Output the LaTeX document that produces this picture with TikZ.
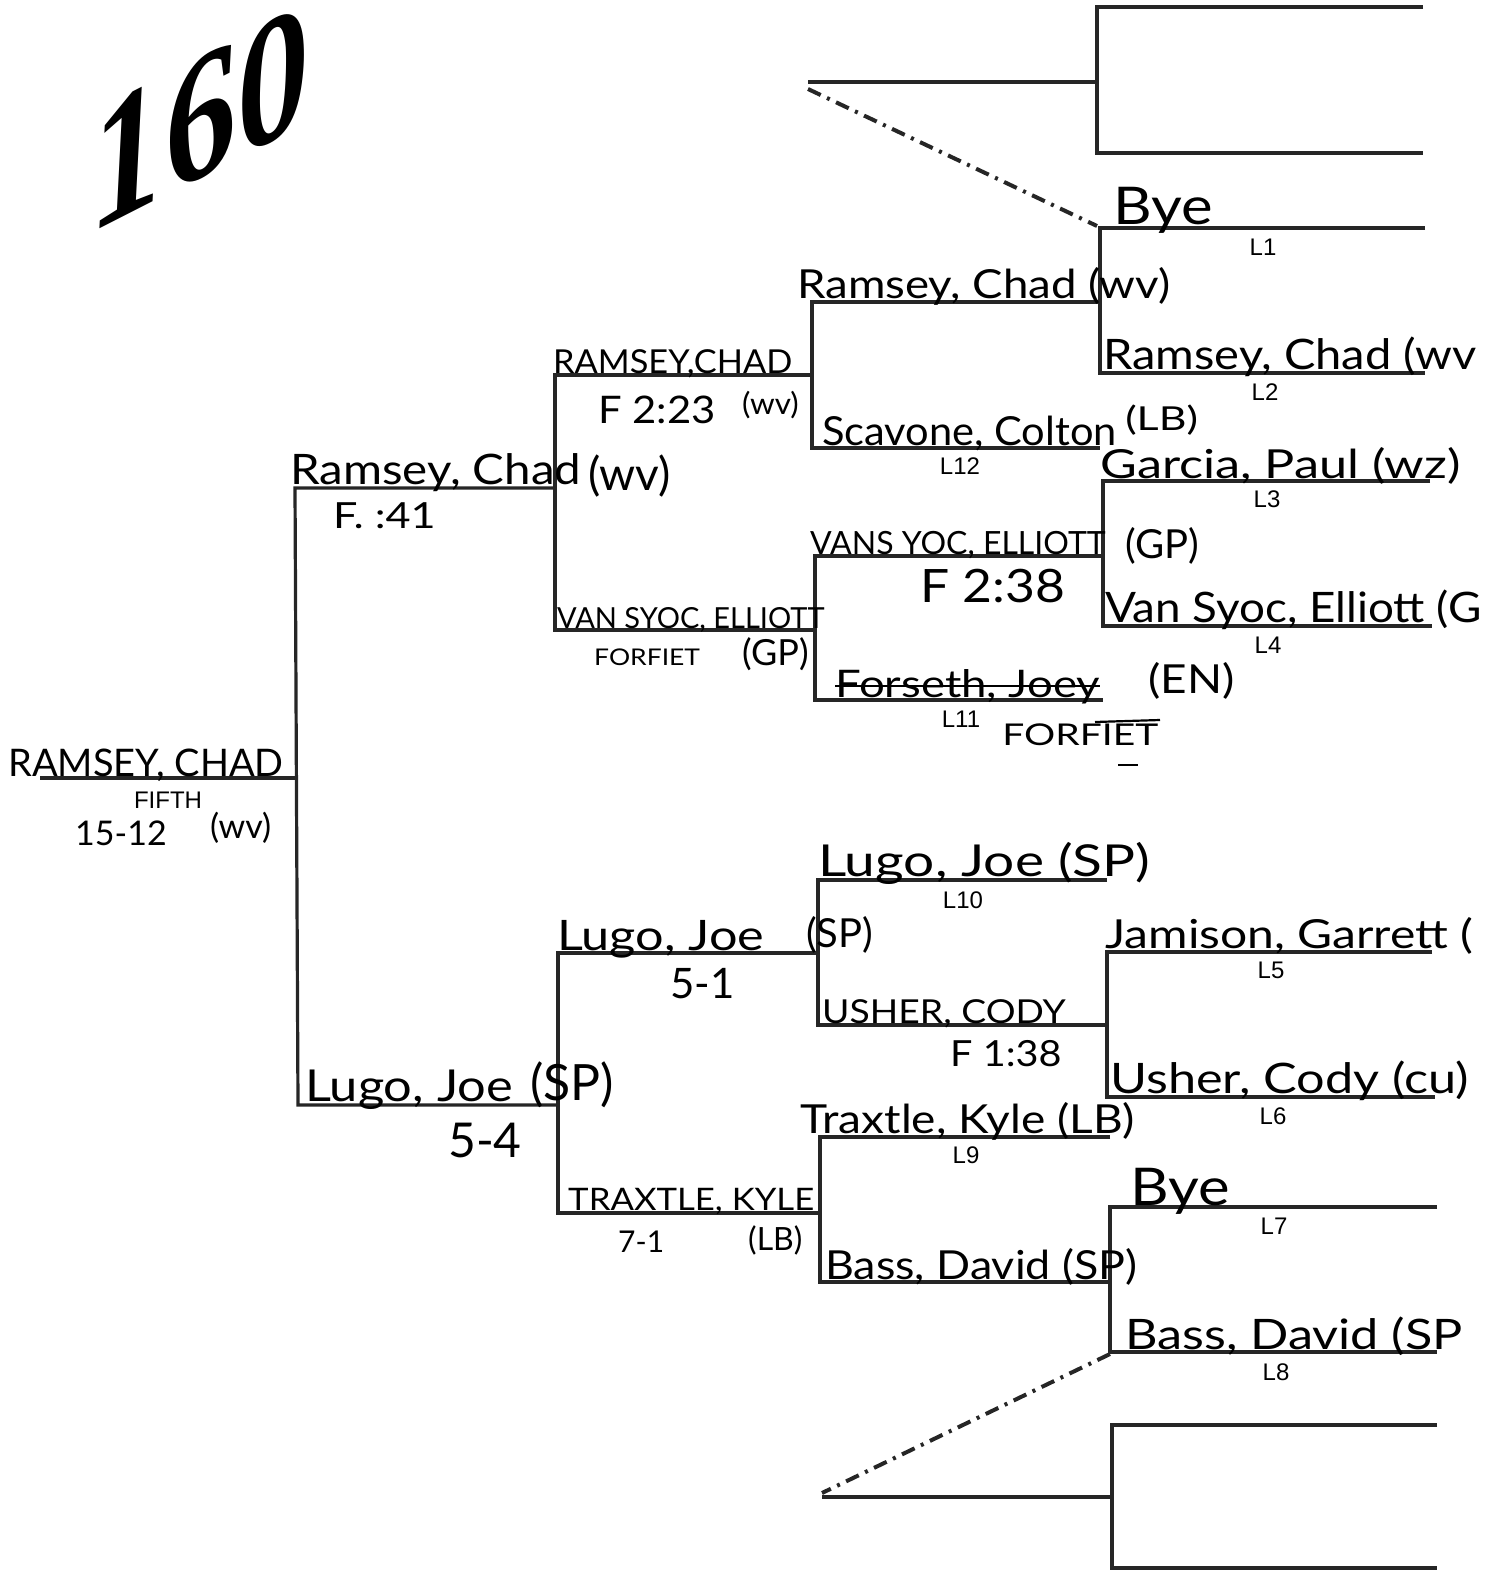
\documentclass[tikz,border=0pt]{standalone}
\usepackage{fontspec}
\newfontfamily\hand{Lato}
\newfontfamily\prnt{Liberation Sans}
\newfontfamily\logofont{Liberation Serif}
\begin{document}
\begin{tikzpicture}[x=1pt,y=-1pt,
  bline/.style={line width=3.2pt,line join=miter,draw=black!85},
  dd/.style={line width=4pt,dash pattern=on 14pt off 7pt on 3pt off 7pt,draw=black!85},
  hw/.style={font=\hand\fontsize{#1}{#1}\selectfont,anchor=base west,inner sep=0pt},
  lbl/.style={font=\prnt\fontsize{24}{24}\selectfont,inner sep=0pt},
  penstroke/.style={line width=2.2pt}]
\useasboundingbox (0,0) rectangle (1484,1571);
\fill[white] (0,0) rectangle (1484,1571);
\clip (0,0) rectangle (1484,1571);

% logo
\node[font=\logofont\bfseries\itshape\fontsize{162}{162}\selectfont,inner sep=0pt,rotate=27,xslant=0.4] (logo) at (200,118) {160};

% ---- level 1 brackets
\coordinate (r0t) at (1097,7);    \coordinate (r0te) at (1423,7);
\coordinate (r0b) at (1097,153);  \coordinate (r0be) at (1423,153);
\coordinate (r0m) at (1097,82);   \coordinate (r0in) at (808,82);
\coordinate (r1t) at (1100,228);  \coordinate (r1te) at (1425,228);
\coordinate (r1b) at (1100,373);  \coordinate (r1be) at (1425,373);
\coordinate (r1m) at (1100,302);
\coordinate (r2t) at (1103,481);  \coordinate (r2te) at (1430,481);
\coordinate (r2b) at (1103,626);  \coordinate (r2be) at (1432,626);
\coordinate (r2m) at (1103,556);
\coordinate (r3t) at (1107,952);  \coordinate (r3te) at (1432,952);
\coordinate (r3b) at (1107,1097); \coordinate (r3be) at (1435,1097);
\coordinate (r3m) at (1107,1025);
\coordinate (r4t) at (1110,1207); \coordinate (r4te) at (1437,1207);
\coordinate (r4b) at (1110,1352); \coordinate (r4be) at (1437,1352);
\coordinate (r4m) at (1110,1282);
\coordinate (r5t) at (1112,1425); \coordinate (r5te) at (1437,1425);
\coordinate (r5b) at (1112,1568); \coordinate (r5be) at (1437,1568);
\coordinate (r5m) at (1112,1497); \coordinate (r5in) at (822,1497);
% ---- level 2
\coordinate (m1t) at (812,302);  \coordinate (m1b) at (812,448);  \coordinate (m1be) at (1100,448); \coordinate (m1m) at (812,375);
\coordinate (m2t) at (815,556);  \coordinate (m2b) at (815,700);  \coordinate (m2be) at (1103,700); \coordinate (m2m) at (815,630);
\coordinate (m3t) at (818,880);  \coordinate (m3te) at (1107,880); \coordinate (m3b) at (818,1025); \coordinate (m3m) at (818,953);
\coordinate (m4t) at (820,1137); \coordinate (m4te) at (1110,1137); \coordinate (m4b) at (820,1282); \coordinate (m4m) at (820,1213);
% ---- level 3
\coordinate (s1t) at (555,375); \coordinate (s1b) at (555,630); \coordinate (s1m) at (555,488);
\coordinate (s2t) at (558,953); \coordinate (s2b) at (558,1213); \coordinate (s2m) at (558,1105);
% ---- final
\coordinate (ft) at (295,488); \coordinate (fb) at (298,1105); \coordinate (fm) at (295,778); \coordinate (fo) at (40,778);
% dash-dot ends
\coordinate (d1a) at (808,89);  \coordinate (d1b) at (1097,226);
\coordinate (d2a) at (822,1493); \coordinate (d2b) at (1110,1354);

\draw[bline] (r0te) -- (r0t) -- (r0b) -- (r0be);
\draw[bline] (r0in) -- (r0m);
\draw[bline] (r1te) -- (r1t) -- (r1b) -- (r1be);
\draw[bline] (r2te) -- (r2t) -- (r2b) -- (r2be);
\draw[bline] (r3te) -- (r3t) -- (r3b) -- (r3be);
\draw[bline] (r4te) -- (r4t) -- (r4b) -- (r4be);
\draw[bline] (r5te) -- (r5t) -- (r5b) -- (r5be);
\draw[bline] (r5in) -- (r5m);
\draw[bline] (r1m) -- (m1t) -- (m1b) -- (m1be);
\draw[bline] (r2m) -- (m2t) -- (m2b) -- (m2be);
\draw[bline] (m3te) -- (m3t) -- (m3b) -- (r3m);
\draw[bline] (m4te) -- (m4t) -- (m4b) -- (r4m);
\draw[bline] (m1m) -- (s1t) -- (s1b) -- (m2m);
\draw[bline] (m3m) -- (s2t) -- (s2b) -- (m4m);
\draw[bline] (s1m) -- (ft) -- (fb) -- (s2m);
\draw[bline] (fm) -- (fo);
\draw[dd] (d1a) -- (d1b);
\draw[dd] (d2b) -- (d2a);

% ---- printed labels
\node[lbl] (L1) at (1263,247) {L1};
\node[lbl] (L2) at (1265,392) {L2};
\node[lbl] (L3) at (1267,499) {L3};
\node[lbl] (L4) at (1268,645) {L4};
\node[lbl] (L5) at (1271,970) {L5};
\node[lbl] (L6) at (1273,1116) {L6};
\node[lbl] (L7) at (1274,1226) {L7};
\node[lbl] (L8) at (1276,1372) {L8};
\node[lbl] (L9) at (966,1155) {L9};
\node[lbl] (L10) at (963,900) {L10};
\node[lbl] (L11) at (961,719) {L11};
\node[lbl] (L12) at (960,466) {L12};
\node[lbl] (fifth) at (168,800) {FIFTH};

% ---- handwriting
\node[hw=52,xscale=1.15] (bye1) at (1113,224) {Bye};
\node[hw=40,xscale=1.14] (ram1) at (797,298) {Ramsey, Chad (wv)};
\node[hw=42,xscale=1.12] (ram2) at (1103,369) {Ramsey, Chad (wv};
\node[hw=33,xscale=1.04] (ram3) at (553,373) {RAMSEY,CHAD};
\node[hw=38,xscale=1.1] (f223) at (598,423) {F 2:23};
\node[hw=30,xscale=1.05] (wv3) at (742,414) {(wv)};
\node[hw=40,xscale=1.04] (sca) at (822,445) {Scavone, Colton};
\node[hw=33,xscale=1.3] (lb1) at (1125,430) {(LB)};
\node[hw=40,xscale=1.26] (gar) at (1100,478) {Garcia, Paul (wz)};
\node[hw=32] (vsy1) at (810,554) {VANS YOC, ELLIOTT};
\node[hw=40] (gp1) at (1125,558) {(GP)};
\node[hw=46,xscale=1.12] (f238) at (920,602) {F 2:38};
\node[hw=42,xscale=1.09] (vsy2) at (1105,622) {Van Syoc, Elliott (G};
\node[hw=38,xscale=1.2] (for) at (835,697) {Forseth, Joey};
\draw[penstroke] ([yshift=11pt]for.base west) -- ([yshift=11pt]for.base east);
\node[hw=40,xscale=1.15] (en) at (1148,693) {(EN)};
\node[hw=30,xscale=1.3] (ff1) at (1002,745) {FORFIET};
\draw[penstroke] (1095,722) -- (1160,720);
\draw[penstroke] (1118,765) -- (1138,765);
\node[hw=42,xscale=1.13] (ram4) at (290,484) {Ramsey, Chad};
\node[hw=46] (wv4) at (588,490) {(wv)};
\node[hw=36,xscale=1.2] (f41) at (333,528) {F. :41};
\node[hw=29] (vsy3) at (557,628) {VAN SYOC, ELLIOTT};
\node[hw=23,xscale=1.15] (ff2) at (594,665) {FORFIET};
\node[hw=36] (gp2) at (742,665) {(GP)};
\node[hw=38] (ram5) at (8,776) {RAMSEY, CHAD};
\node[hw=34] (s1512) at (75,845) {15-12};
\node[hw=34] (wv5) at (210,838) {(wv)};
\node[hw=44,xscale=1.25] (lugo1) at (818,876) {Lugo, Joe (SP)};
\node[hw=42,xscale=1.2] (lugo2) at (557,950) {Lugo, Joe};
\node[hw=40] (sp2) at (806,947) {(SP)};
\node[hw=42] (s51) at (670,998) {5-1};
\node[hw=40,xscale=1.2] (jam) at (1105,948) {Jamison, Garrett (};
\node[hw=33,xscale=1.13] (ush1) at (822,1023) {USHER, CODY};
\node[hw=36,xscale=1.1] (f138) at (950,1066) {F 1:38};
\node[hw=42,xscale=1.2] (ush2) at (1110,1093) {Usher, Cody (cu)};
\node[hw=44,xscale=1.15] (lugo3) at (305,1101) {Lugo, Joe};
\node[hw=50] (sp3) at (530,1100) {(SP)};
\node[hw=48] (s54) at (448,1157) {5-4};
\node[hw=40,xscale=1.15] (trx1) at (800,1133) {Traxtle, Kyle (LB)};
\node[hw=52,xscale=1.15] (bye2) at (1130,1205) {Bye};
\node[hw=31,xscale=1.12] (trx2) at (568,1210) {TRAXTLE, KYLE};
\node[hw=30] (s71) at (618,1252) {7-1};
\node[hw=32] (lb2) at (748,1250) {(LB)};
\node[hw=40,xscale=1.12] (bas1) at (825,1279) {Bass, David (SP)};
\node[hw=42,xscale=1.2] (bas2) at (1125,1349) {Bass, David (SP};
\end{tikzpicture}
\end{document}
